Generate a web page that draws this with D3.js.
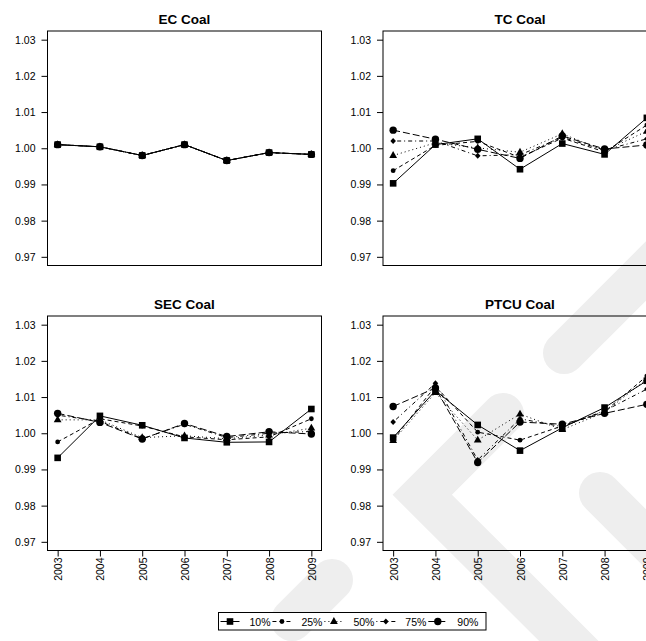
<!DOCTYPE html>
<html><head><meta charset="utf-8">
<script src="https://cdn.jsdelivr.net/npm/d3@7"></script>
<style>
body{margin:0;background:#fff;}
svg{display:block;background:#fff;}
text{font-family:"Liberation Sans",Arial,Helvetica,sans-serif;fill:#000;}
</style>
</head><body>
<svg id="chart" width="646" height="641"></svg>
<script>
// ---------- data ----------
const years = [2003, 2004, 2005, 2006, 2007, 2008, 2009];
const seriesNames = ["10%", "25%", "50%", "75%", "90%"];
const panelTitles = ["EC Coal", "TC Coal", "SEC Coal", "PTCU Coal"];
const yTicks = [0.97, 0.98, 0.99, 1.00, 1.01, 1.02, 1.03];

const ecCoal = [
  [1.0010, 1.0004, 0.9980, 1.0010, 0.9966, 0.9988, 0.9983],
  [1.0010, 1.0004, 0.9980, 1.0010, 0.9966, 0.9988, 0.9983],
  [1.0010, 1.0004, 0.9980, 1.0010, 0.9966, 0.9988, 0.9983],
  [1.0010, 1.0004, 0.9980, 1.0010, 0.9966, 0.9988, 0.9983],
  [1.0010, 1.0004, 0.9980, 1.0010, 0.9966, 0.9988, 0.9983]
];
const tcCoal = [
  [0.9903, 1.0010, 1.0026, 0.9942, 1.0013, 0.9983, 1.0084],
  [0.9938, 1.0008, 1.0019, 0.9975, 1.0028, 0.9990, 1.0064],
  [0.9980, 1.0015, 1.0001, 0.9989, 1.0040, 0.9993, 1.0047],
  [1.0020, 1.0020, 0.9979, 0.9982, 1.0030, 0.9995, 1.0026],
  [1.0050, 1.0025, 0.9997, 0.9972, 1.0034, 0.9998, 1.0009]
];
const secCoal = [
  [0.9932, 1.0048, 1.0022, 0.9987, 0.9975, 0.9976, 1.0067],
  [0.9976, 1.0040, 1.0020, 0.9990, 0.9982, 0.9990, 1.0040],
  [1.0037, 1.0037, 0.9988, 0.9993, 0.9985, 0.9995, 1.0014],
  [1.0050, 1.0033, 0.9985, 1.0025, 0.9988, 1.0000, 1.0005],
  [1.0055, 1.0030, 0.9984, 1.0027, 0.9991, 1.0004, 0.9998]
];
const ptcuCoal = [
  [0.9988, 1.0118, 1.0023, 0.9952, 1.0015, 1.0071, 1.0145],
  [0.9982, 1.0130, 1.0003, 0.9981, 1.0020, 1.0060, 1.0158],
  [0.9980, 1.0112, 0.9981, 1.0053, 1.0010, 1.0058, 1.0150],
  [1.0031, 1.0138, 0.9926, 1.0040, 1.0018, 1.0062, 1.0122],
  [1.0074, 1.0125, 0.9919, 1.0031, 1.0025, 1.0055, 1.0080]
];

// ---------- styles ----------
const dashes = [null, "4,3", "1,3", "1,3,4,3", "7,3"];
const shapes = ["square", "smallCircle", "triangle", "diamond", "bigCircle"];

const svg = d3.select("#chart");

// light watermark in the background
const wm = svg.append("g").attr("fill", "none").attr("stroke", "#eeeeee")
  .attr("stroke-width", 42).attr("stroke-linecap", "round").attr("stroke-linejoin", "miter");
wm.append("path").attr("d", "M564,353 L760,157");
wm.append("path").attr("d", "M503,414 L422.25,494.75 L622,694");
wm.append("path").attr("d", "M600,493 L760,653");
wm.append("path").attr("d", "M332,580 L292,620");

function drawMarker(g, shape, cx, cy) {
  if (shape === "square") {
    g.append("rect").attr("x", cx - 3.3).attr("y", cy - 3.3).attr("width", 6.6).attr("height", 6.6).attr("fill", "#000");
  } else if (shape === "smallCircle") {
    g.append("circle").attr("cx", cx).attr("cy", cy).attr("r", 2.4).attr("fill", "#000");
  } else if (shape === "triangle") {
    g.append("path").attr("d", `M${cx},${cy - 4.4}L${cx + 3.9},${cy + 2.4}L${cx - 3.9},${cy + 2.4}Z`).attr("fill", "#000");
  } else if (shape === "diamond") {
    g.append("path").attr("d", `M${cx},${cy - 3}L${cx + 2.8},${cy}L${cx},${cy + 3}L${cx - 2.8},${cy}Z`).attr("fill", "#000");
  } else {
    g.append("circle").attr("cx", cx).attr("cy", cy).attr("r", 3.7).attr("fill", "#000");
  }
}

const panelW = 274, panelH = 234.5;
const panels = [
  { title: panelTitles[0], data: ecCoal, x0: 47.5, y0: 31, showX: false },
  { title: panelTitles[1], data: tcCoal, x0: 383, y0: 31, showX: false },
  { title: panelTitles[2], data: secCoal, x0: 47.5, y0: 316, showX: true },
  { title: panelTitles[3], data: ptcuCoal, x0: 383, y0: 316, showX: true }
];

panels.forEach(p => {
  const x = d3.scaleLinear().domain([2003 - 0.24, 2009 + 0.24]).range([p.x0, p.x0 + panelW]);
  const y = d3.scaleLinear().domain([0.97 - 0.0024, 1.03 + 0.0024]).range([p.y0 + panelH, p.y0]);
  const g = svg.append("g");

  // y axis
  const ya = g.append("g").attr("transform", `translate(${p.x0},0)`)
    .call(d3.axisLeft(y).tickValues(yTicks).tickFormat(d3.format(".2f")).tickSize(6).tickPadding(6));
  ya.select(".domain").remove();
  ya.selectAll("line").attr("stroke", "#000");
  ya.selectAll("text").attr("font-size", "10.5px").attr("fill", "#000")
    .attr("font-family", '"Liberation Sans",Arial,Helvetica,sans-serif');

  // x axis
  if (p.showX) {
    const xa = g.append("g").attr("transform", `translate(0,${p.y0 + panelH})`)
      .call(d3.axisBottom(x).tickValues(years).tickFormat(d3.format("d")).tickSize(6).tickPadding(0));
    xa.select(".domain").remove();
    xa.selectAll("line").attr("stroke", "#000");
    xa.selectAll("text").attr("font-size", "10.5px").attr("fill", "#000")
      .attr("font-family", '"Liberation Sans",Arial,Helvetica,sans-serif')
      .attr("text-anchor", "end").attr("dy", null)
      .attr("transform", "translate(0,7) rotate(-90)")
      .attr("x", 0).attr("y", 0).attr("dominant-baseline", "central");
  }

  // box
  g.append("rect").attr("x", p.x0).attr("y", p.y0).attr("width", panelW).attr("height", panelH)
    .attr("fill", "none").attr("stroke", "#000").attr("stroke-width", 1);

  // title
  g.append("text").attr("x", p.x0 + panelW / 2).attr("y", p.y0 - 7.5)
    .attr("text-anchor", "middle").attr("font-weight", "bold").attr("font-size", "13.5px").text(p.title);

  // series
  const line = d3.line().x((d, i) => x(years[i])).y(d => y(d));
  p.data.forEach((vals, si) => {
    const sg = g.append("g");
    sg.append("path").attr("d", line(vals)).attr("fill", "none").attr("stroke", "#000")
      .attr("stroke-width", 1).attr("stroke-dasharray", dashes[si]);
    vals.forEach((v, i) => drawMarker(sg, shapes[si], x(years[i]), y(v)));
  });
});

// legend
const lg = svg.append("g");
lg.append("rect").attr("x", 218.5).attr("y", 612.5).attr("width", 267.5).attr("height", 17.5)
  .attr("fill", "#fff").attr("stroke", "#000").attr("stroke-width", 1);
const legendX = d3.scaleLinear().domain([0, 4]).range([220.5, 428.3]);
seriesNames.forEach((name, si) => {
  const lx = legendX(si), ly = 621.5;
  lg.append("line").attr("x1", lx).attr("x2", lx + 19).attr("y1", ly).attr("y2", ly)
    .attr("stroke", "#000").attr("stroke-width", 1).attr("stroke-dasharray", dashes[si]);
  drawMarker(lg, shapes[si], lx + 9.5, ly);
  lg.append("text").attr("x", lx + 29).attr("y", ly).attr("dominant-baseline", "central")
    .attr("font-size", "10.5px").text(name);
});
</script>
</body></html>
